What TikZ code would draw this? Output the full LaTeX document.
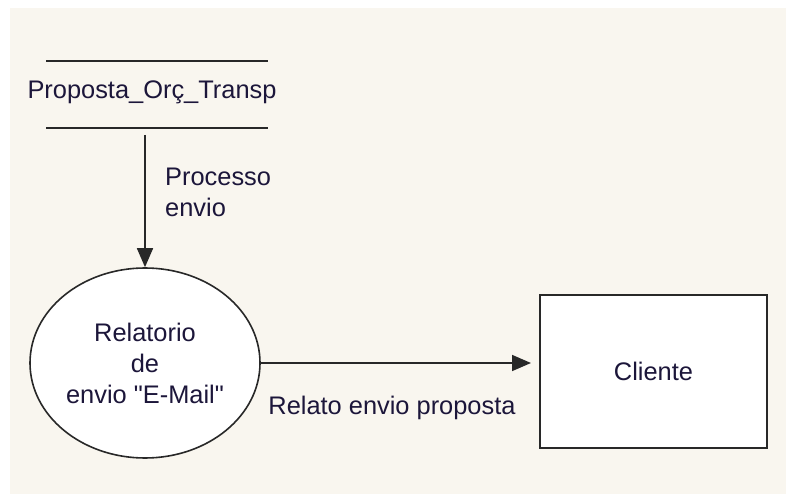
\documentclass[tikz,border=0pt]{standalone}
\usepackage{fontspec}
\setmainfont{Liberation Sans}[Ligatures=TeXOff]
\usetikzlibrary{arrows.meta,shapes.geometric}
\definecolor{cream}{RGB}{249,246,239}
\definecolor{txt}{RGB}{28,22,58}
\definecolor{ln}{RGB}{40,40,40}
\tikzset{
  lbl/.style={text=txt,font=\fontsize{25.4}{31}\selectfont,inner sep=0pt},
  flow/.style={draw=ln,line width=1.6pt,-{Triangle[length=19pt,width=16pt]}},
  storeline/.style={draw=ln,line width=2pt},
}
\begin{document}
\begin{tikzpicture}[x=1pt,y=-1pt]
\useasboundingbox (0,0) rectangle (787,494);
\fill[white] (0,0) rectangle (787,494);
\fill[cream] (10,8) rectangle (786,494);
% data store
\coordinate (s1a) at (46,61); \coordinate (s1b) at (268,61);
\coordinate (s2a) at (46,128); \coordinate (s2b) at (268,128);
\draw[storeline] (s1a) -- (s1b);
\draw[storeline] (s2a) -- (s2b);
\node[lbl] (store) at (152,92) {Proposta\_Orç\_Transp};
\coordinate (storeout) at (145,135);
% process
\node[draw=ln,line width=1.6pt,fill=white,ellipse,minimum width=230pt,minimum height=190pt,inner sep=0pt,
  lbl,align=center] (proc) at (145,363) {Relatorio\\de\\envio "E-Mail"};
% external entity
\node[draw=ln,line width=2pt,fill=white,minimum width=227pt,minimum height=153pt,inner sep=0pt,lbl] (cli) at (653.5,371.5) {Cliente};
% flows
\draw[flow] (storeout) -- (proc.north);
\node[lbl,align=left,anchor=north west] (l1) at (165,168) {Processo\\envio};
\draw[flow,shorten >=8pt] (proc.east) -- (cli.west |- proc.east);
\node[lbl] (l2) at (392,408) {Relato envio proposta};
\end{tikzpicture}
\end{document}
